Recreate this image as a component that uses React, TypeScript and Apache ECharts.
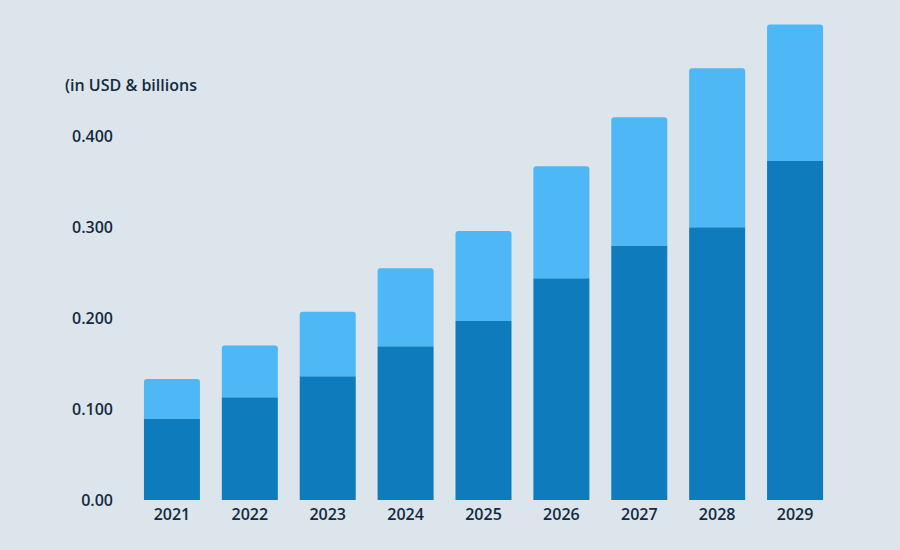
import React, { useEffect, useRef } from "react";
import * as echarts from "echarts";

const years = ["2021", "2022", "2023", "2024", "2025", "2026", "2027", "2028", "2029"];
const baseValues = [0.089, 0.113, 0.136, 0.169, 0.197, 0.244, 0.28, 0.3, 0.373];
const topValues = [0.044, 0.057, 0.071, 0.086, 0.099, 0.123, 0.141, 0.175, 0.15];
const unitLabel = "(in USD & billions";

export default function App() {
  const ref = useRef<HTMLDivElement>(null);
  useEffect(() => {
    if (!ref.current) return;
    const chart = echarts.init(ref.current, undefined, { renderer: "svg" });
    const textColor = "#132a40";
    const font = "'Open Sans', 'Noto Sans', sans-serif";
    chart.setOption({
      animation: false,
      backgroundColor: "#dce5ec",
      textStyle: { fontFamily: font },
      graphic: [
        {
          type: "text",
          left: 65,
          top: 77,
          style: { text: unitLabel, fill: textColor, font: `600 16px ${font}` },
        },
      ],
      grid: { left: 133, right: 66, top: 0, bottom: 50 },
      xAxis: {
        type: "category",
        data: years,
        axisLine: { show: false },
        axisTick: { show: false },
        axisLabel: { color: textColor, fontSize: 16, fontWeight: 600, margin: 6, fontFamily: font },
      },
      yAxis: {
        type: "value",
        min: 0,
        max: 0.55,
        interval: 0.1,
        splitLine: { show: false },
        axisLine: { show: false },
        axisTick: { show: false },
        axisLabel: {
          color: textColor,
          fontSize: 16,
          fontWeight: 600,
          margin: 20,
          fontFamily: font,
          formatter: (v: number) => (v === 0 ? "0.00" : v > 0.45 ? "" : v.toFixed(3)),
        },
      },
      series: [
        {
          type: "bar",
          stack: "total",
          data: baseValues,
          barWidth: 56,
          itemStyle: { color: "#0e7bbd" },
        },
        {
          type: "bar",
          stack: "total",
          data: topValues,
          barWidth: 56,
          itemStyle: { color: "#4db8f5", borderRadius: [3, 3, 0, 0] },
        },
      ],
    });
    return () => chart.dispose();
  }, []);
  return <div ref={ref} style={{ width: 900, height: 550, position: "absolute", left: 0, top: 0 }} />;
}
